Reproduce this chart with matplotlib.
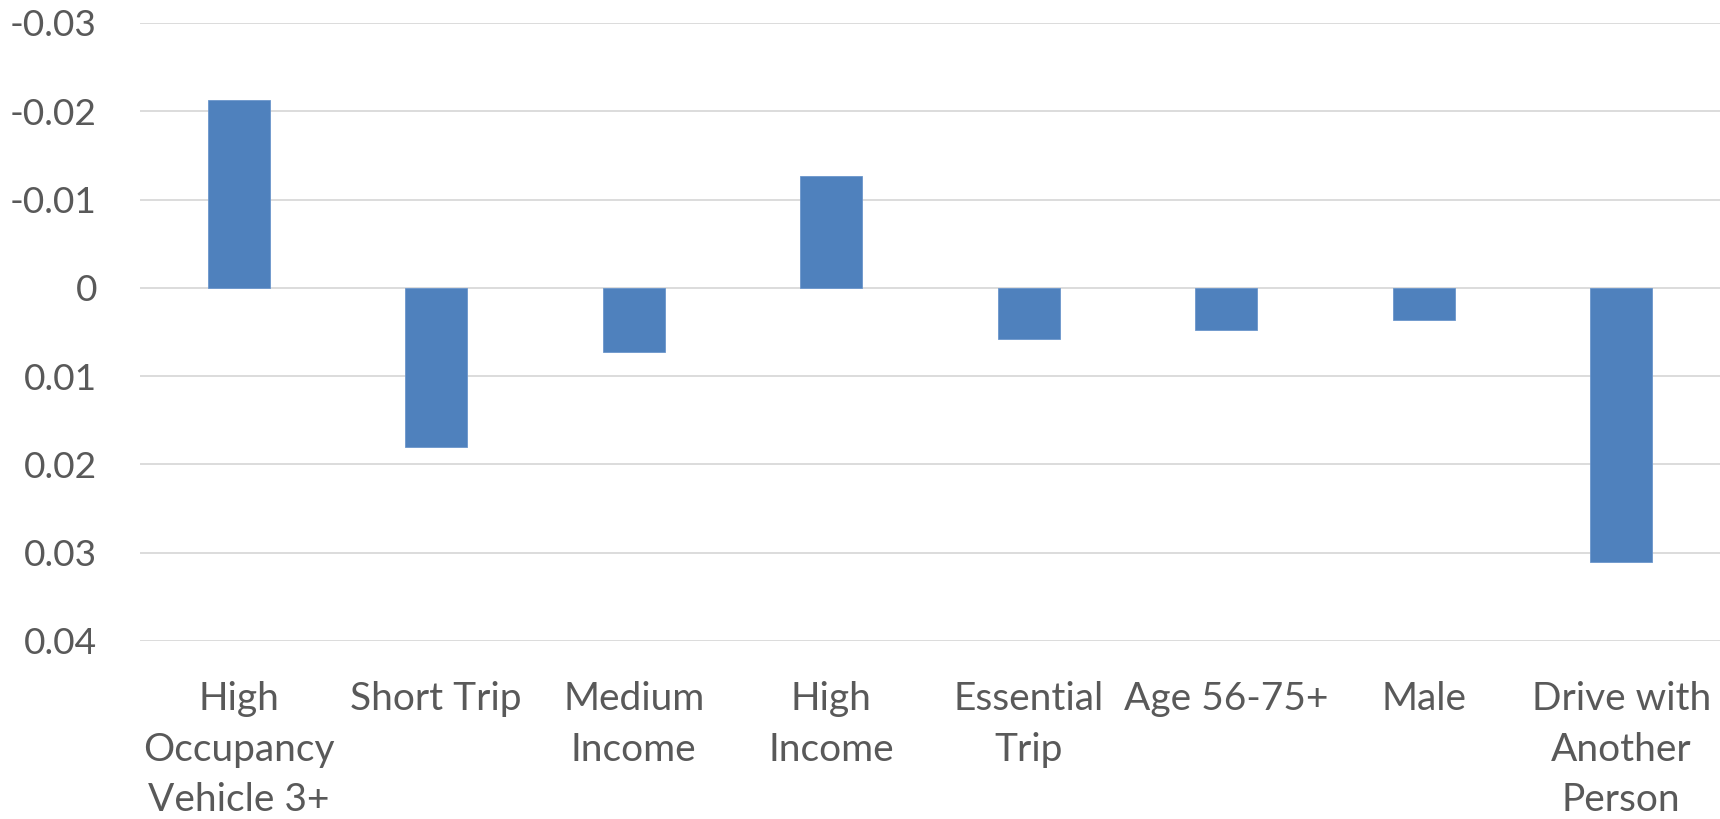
import matplotlib.pyplot as plt

categories = ["High\nOccupancy\nVehicle 3+", "Short Trip", "Medium\nIncome", "High\nIncome",
              "Essential\nTrip", "Age 56-75+", "Male", "Drive with\nAnother\nPerson"]
values = [-0.0213, 0.0180, 0.0073, -0.0127, 0.0058, 0.0048, 0.0036, 0.0311]
yticks = [-0.03, -0.02, -0.01, 0, 0.01, 0.02, 0.03, 0.04]
ytick_labels = ["-0.03", "-0.02", "-0.01", "0", "0.01", "0.02", "0.03", "0.04"]

plt.rcParams['font.family'] = ['Lato', 'DejaVu Sans']
text_color = '#595959'

fig = plt.figure(figsize=(17.2, 8.19), dpi=100)
ax = fig.add_axes([140 / 1720, (819 - 641) / 819, 1 - 140 / 1720, (641 - 23) / 819])

x = list(range(len(categories)))
ax.bar(x, values, width=0.314, color='#4F81BD', edgecolor='#6b96cc', linewidth=0.6, zorder=3)

ax.set_xlim(-0.5, len(categories) - 0.5)
ax.set_ylim(0.04, -0.03)
ax.set_yticks(yticks)
ax.set_yticklabels(ytick_labels, fontsize=26.7)
ax.grid(axis='y', color='#d9d9d9', linewidth=1.3, zorder=0)
ax.set_xticks(x)
ax.set_xticklabels(categories, linespacing=1.5, va='top', fontsize=28)

for s in ax.spines.values():
    s.set_visible(False)
ax.tick_params(axis='both', length=0, colors=text_color)
ax.tick_params(axis='y', pad=31)
ax.tick_params(axis='x', pad=29)

fig.savefig('out.png', dpi=100)
